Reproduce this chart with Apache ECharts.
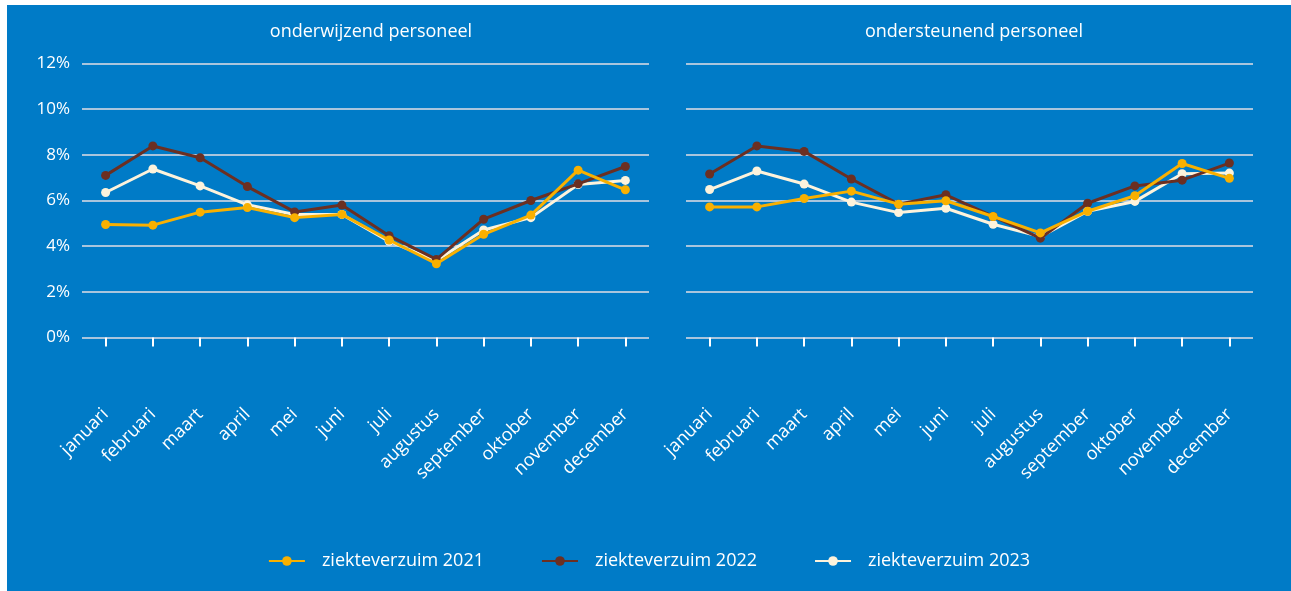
<!DOCTYPE html>
<html>
<head>
<meta charset="utf-8">
<script src="https://cdn.jsdelivr.net/npm/echarts@6/dist/echarts.min.js"></script>
<style>
  html, body { margin: 0; padding: 0; background: #fff; }
  #chart { position: absolute; left: 7px; top: 5px; width: 1284px; height: 586px; background: #007bc7; }
</style>
</head>
<body>
<div id="chart"></div>
<script>
// maanden en verzuimcijfers (%)
const maanden = ["januari", "februari", "maart", "april", "mei", "juni", "juli", "augustus", "september", "oktober", "november", "december"];
const yTicks = [0, 2, 4, 6, 8, 10, 12];

// onderwijzend personeel
const op2021 = [4.95, 4.92, 5.49, 5.69, 5.25, 5.39, 4.27, 3.23, 4.52, 5.36, 7.33, 6.47];
const op2022 = [7.10, 8.39, 7.87, 6.61, 5.50, 5.80, 4.46, 3.42, 5.18, 6.00, 6.73, 7.49];
const op2023 = [6.35, 7.38, 6.64, 5.81, 5.39, 5.39, 4.21, 3.37, 4.71, 5.25, 6.70, 6.88];

// ondersteunend personeel
const ob2021 = [5.72, 5.72, 6.09, 6.41, 5.84, 5.99, 5.30, 4.58, 5.53, 6.21, 7.62, 6.97];
const ob2022 = [7.16, 8.39, 8.15, 6.94, 5.84, 6.25, 5.30, 4.35, 5.88, 6.64, 6.89, 7.64];
const ob2023 = [6.48, 7.29, 6.72, 5.93, 5.47, 5.66, 4.96, 4.42, 5.53, 5.96, 7.17, 7.20];

const titels = ["onderwijzend personeel", "ondersteunend personeel"];
const reeksNamen = ["ziekteverzuim 2021", "ziekteverzuim 2022", "ziekteverzuim 2023"];
const kleuren = ["#f9b000", "#6b2f22", "#fdf3dc"];

const font = "Open Sans";

const mycharts = echarts.init(document.getElementById("chart"));

const xAs = (idx) => ({
  type: "category",
  gridIndex: idx,
  data: maanden,
  offset: 13,
  axisLine: { show: false },
  axisTick: { show: true, alignWithLabel: true, length: 9, lineStyle: { color: "#ffffff", width: 2 } },
  axisLabel: { color: "#ffffff", fontFamily: font, fontSize: 18, rotate: 45, margin: 61, interval: 0 },
  splitLine: { show: false }
});

const yAs = (idx) => ({
  type: "value",
  gridIndex: idx,
  min: yTicks[0],
  max: yTicks[yTicks.length - 1],
  interval: 2,
  axisLine: { show: false },
  axisTick: { show: false },
  axisLabel: { show: idx === 0, color: "#ffffff", fontFamily: font, fontSize: 17, margin: 12, formatter: "{value}%" },
  splitLine: { lineStyle: { color: "#a9c5dd", width: 2 } }
});

const lijn = (naam, data, kleur, idx, z) => ({
  name: naam,
  type: "line",
  xAxisIndex: idx,
  yAxisIndex: idx,
  data: data,
  z: z,
  symbol: "circle",
  symbolSize: 9,
  lineStyle: { color: kleur, width: 3 },
  itemStyle: { color: kleur },
  emphasis: { disabled: true }
});

const titelStijl = { color: "#ffffff", fontFamily: font, fontSize: 18, fontWeight: "normal" };

const options = {
  animation: false,
  title: [
    { text: titels[0], left: 359, top: 13, textAlign: "center", textStyle: titelStijl },
    { text: titels[1], left: 962, top: 13, textAlign: "center", textStyle: titelStijl }
  ],
  legend: {
    data: reeksNamen,
    left: "center",
    top: 542,
    itemWidth: 36,
    itemHeight: 12,
    itemGap: 57,
    textStyle: { color: "#ffffff", fontFamily: font, fontSize: 18, padding: [0, 0, 0, 12] }
  },
  grid: [
    { left: 75, width: 567, top: 58.5, height: 274 },
    { left: 679, width: 567, top: 58.5, height: 274 }
  ],
  xAxis: [xAs(0), xAs(1)],
  yAxis: [yAs(0), yAs(1)],
  series: [
    lijn(reeksNamen[0], op2021, kleuren[0], 0, 4),
    lijn(reeksNamen[1], op2022, kleuren[1], 0, 3),
    lijn(reeksNamen[2], op2023, kleuren[2], 0, 2),
    lijn(reeksNamen[0], ob2021, kleuren[0], 1, 4),
    lijn(reeksNamen[1], ob2022, kleuren[1], 1, 3),
    lijn(reeksNamen[2], ob2023, kleuren[2], 1, 2)
  ]
};
mycharts.setOption(options);
</script>
</body>
</html>
